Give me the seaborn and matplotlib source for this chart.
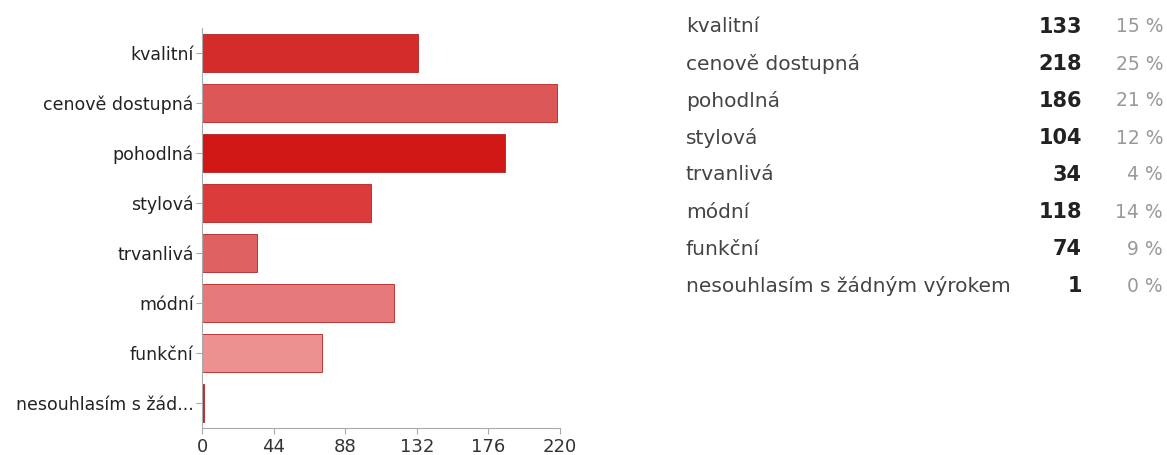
import matplotlib
matplotlib.use("Agg")
import matplotlib.pyplot as plt
import seaborn as sns
import pandas as pd

# Survey answers and counts
categories = ["kvalitní", "cenově dostupná", "pohodlná", "stylová",
              "trvanlivá", "módní", "funkční", "nesouhlasím s žádným výrokem"]
short_labels = ["kvalitní", "cenově dostupná", "pohodlná", "stylová",
                "trvanlivá", "módní", "funkční", "nesouhlasím s žád..."]
counts = [133, 218, 186, 104, 34, 118, 74, 1]
percents = [15, 25, 21, 12, 4, 14, 9, 0]
x_ticks = [0, 44, 88, 132, 176, 220]

bar_colors = ["#d42b2b", "#dc5858", "#d11616", "#dc3b3b",
              "#df6262", "#e67a7a", "#ec9090", "#a03040"]

sns.set_style("white")
plt.rcParams["font.family"] = ["DejaVu Sans"]

df = pd.DataFrame({"odpoved": categories, "pocet": counts})

fig = plt.figure(figsize=(11.67, 4.55), dpi=100)
ax = fig.add_axes([202 / 1167, 1 - 428 / 455, (560 - 202) / 1167, (428 - 28) / 455])

sns.barplot(data=df, x="pocet", y="odpoved", hue="odpoved", palette=bar_colors,
            order=categories, hue_order=categories, legend=False, saturation=1,
            width=0.76, edgecolor="#b52222", linewidth=0.6, ax=ax)

ax.set_xlim(0, 220)
ax.set_ylim(7.5, -0.5)
ax.set_xticks(x_ticks)
ax.set_xticklabels([str(t) for t in x_ticks], fontsize=13, color="#333333")
ax.set_yticks(range(len(categories)))
ax.set_yticklabels(short_labels, fontsize=12.5, color="#222222")
ax.set_xlabel("")
ax.set_ylabel("")
for side in ["top", "right"]:
    ax.spines[side].set_visible(False)
ax.spines["left"].set_color("#aaaaaa")
ax.spines["bottom"].set_color("#aaaaaa")
ax.spines["left"].set_linewidth(0.8)
ax.spines["bottom"].set_linewidth(0.8)
ax.tick_params(axis="both", which="both", length=4, color="#aaaaaa", width=0.8,
               left=True, bottom=True)
ax.tick_params(axis="x", pad=3)
ax.tick_params(axis="y", pad=2)

# Summary table on the right
for i, (name, cnt, pct) in enumerate(zip(categories, counts, percents)):
    y = 1 - (27 + 37.0 * i) / 455
    fig.text(686 / 1167, y, name, fontsize=14.5, color="#444444", va="center", ha="left")
    fig.text(1082 / 1167, y, str(cnt), fontsize=15, color="#222222",
             fontweight="bold", va="center", ha="right")
    fig.text(1163 / 1167, y, f"{pct} %", fontsize=13.5, color="#999999",
             va="center", ha="right")

fig.savefig("out.png", dpi=100, facecolor="white")
